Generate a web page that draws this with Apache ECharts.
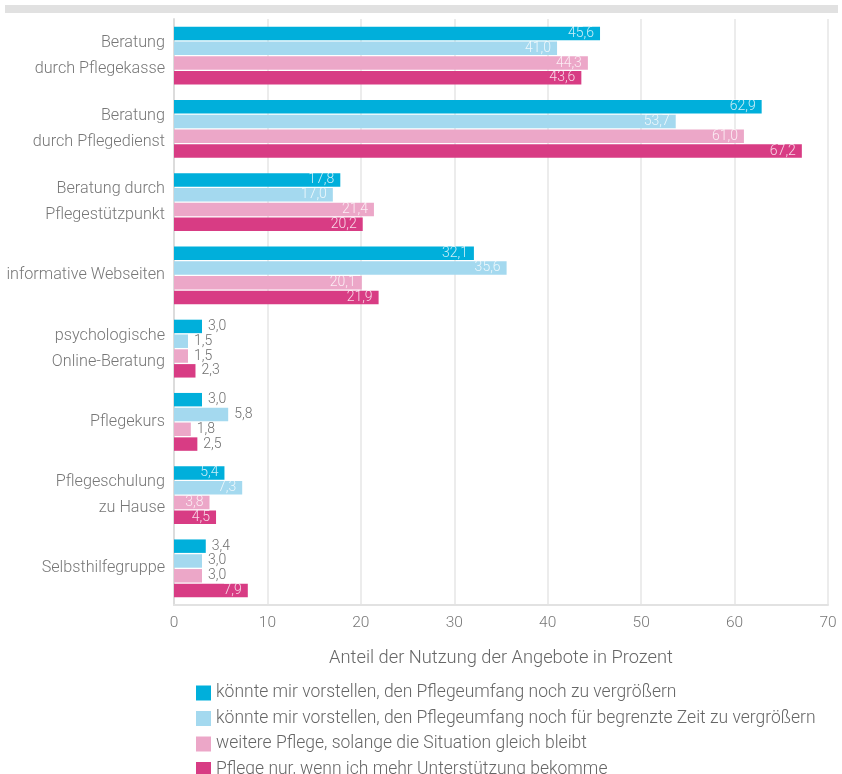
<!DOCTYPE html>
<html><head><meta charset="utf-8">
<script src="https://cdn.jsdelivr.net/npm/echarts@6/dist/echarts.min.js"></script>
<style>html,body{margin:0;padding:0;background:#fff}#c{width:842px;height:774px}</style>
</head><body><div id="c"></div>
<script>
const categories = ['Beratung\ndurch Pflegekasse','Beratung\ndurch Pflegedienst','Beratung durch\nPflegestützpunkt','informative Webseiten','psychologische\nOnline-Beratung','Pflegekurs','Pflegeschulung\nzu Hause','Selbsthilfegruppe'];
const seriesNames = ['könnte mir vorstellen, den Pflegeumfang noch zu vergrößern','könnte mir vorstellen, den Pflegeumfang noch für begrenzte Zeit zu vergrößern','weitere Pflege, solange die Situation gleich bleibt','Pflege nur, wenn ich mehr Unterstützung bekomme'];
const s1 = [45.6, 62.9, 17.8, 32.1, 3.0, 3.0, 5.4, 3.4];
const s2 = [41.0, 53.7, 17.0, 35.6, 1.5, 5.8, 7.3, 3.0];
const s3 = [44.3, 61.0, 21.4, 20.1, 1.5, 1.8, 3.8, 3.0];
const s4 = [43.6, 67.2, 20.2, 21.9, 2.3, 2.5, 4.5, 7.9];
const xTicks = [0,10,20,30,40,50,60,70];
const colors = ['#00afdb','#a4d9ef','#eca7c8','#d83c84'];
const outsideCats = ['psychologische\nOnline-Beratung','Pflegekurs'];
const FONT = 'Roboto';
function mk(vals, i){
  return {
    name: seriesNames[i], type:'bar',
    itemStyle:{color:colors[i]},
    data: vals.map((v,j)=>{
      const out = outsideCats.includes(categories[j]) || v < 3.5;
      return {value:v, label:{
        show:true, position: out ? 'right' : 'insideRight',
        distance: 6,
        color: out ? '#6f6f6f' : 'rgba(255,255,255,0.8)',
        fontFamily: FONT, fontWeight:300, fontSize:14,
        formatter: p => p.value.toFixed(1).replace('.',',')
      }};
    })
  };
}
const chart = echarts.init(document.getElementById('c'));
chart.setOption({
  animation:false,
  textStyle:{fontFamily:FONT},
  graphic:[{type:'rect', shape:{x:5,y:5,width:833,height:8}, style:{fill:'#e1e1e1'}}],
  grid:{left:174, right:14, top:19, height:586, containLabel:false},
  xAxis:{type:'value', min:0, max:70, interval:10,
    axisLine:{show:true, lineStyle:{color:'#e2e2e2', width:2}},
    axisTick:{show:false},
    splitLine:{lineStyle:{color:'#e6e6e6', width:1.5}},
    axisLabel:{color:'#777', fontSize:15.5, fontWeight:300, margin:10, fontFamily:FONT},
    name:'Anteil der Nutzung der Angebote in Prozent', nameLocation:'middle', nameGap:44,
    nameTextStyle:{color:'#666', fontSize:18.3, fontWeight:300, fontFamily:FONT}
  },
  yAxis:{type:'category', data:categories, inverse:true,
    axisLine:{show:true, lineStyle:{color:'#dcdcdc', width:2}},
    axisTick:{show:false},
    axisLabel:{color:'#777', fontSize:16.2, fontWeight:300, lineHeight:26, margin:9, align:'right', fontFamily:FONT}
  },
  legend:{orient:'vertical', left:191, top:679, height:130, itemWidth:15, itemHeight:15, itemGap:7.5,
    icon:'rect',
    textStyle:{color:'#666', fontSize:17.5, fontWeight:300, fontFamily:FONT},
    data:seriesNames},
  series:[mk(s1,0),mk(s2,1),mk(s3,2),mk(s4,3)].map(s=>Object.assign(s,{barCategoryGap:'21%', barGap:'10%'}))
});
</script></body></html>
